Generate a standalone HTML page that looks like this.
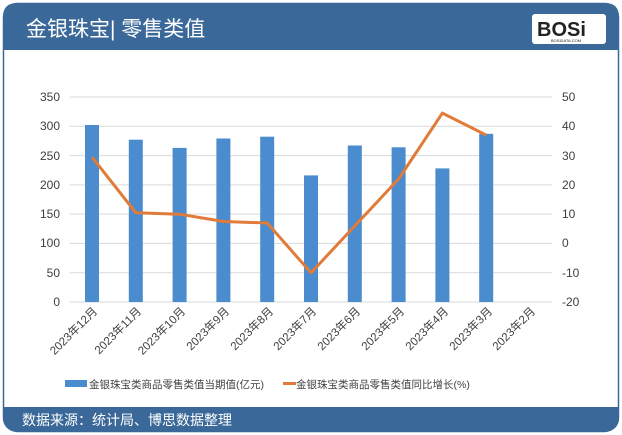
<!DOCTYPE html>
<html><head><meta charset="utf-8"><style>
body{margin:0;background:#fff;width:622px;height:435px;overflow:hidden}
svg{display:block;font-family:"Liberation Sans","Noto Sans CJK SC",sans-serif}
</style></head><body>
<svg width="622" height="435" viewBox="0 0 622 435">
<rect x="3.5" y="3.5" width="615" height="428" rx="14" fill="#fff" stroke="#3a6898" stroke-width="1.5"/>
<path d="M3 50 V17 Q3 3 17 3 H605 Q619 3 619 17 V50 Z" fill="#3a6898"/>
<text x="26" y="36" font-size="21" fill="#fff">金银珠宝| 零售类值</text>
<rect x="532" y="14" width="74" height="30" rx="3" fill="#fff"/>
<text x="537" y="36" font-size="20" font-weight="bold" fill="#222">BOSi</text>
<text x="551" y="42" font-size="4" fill="#222">BOSIDATA.COM</text>
<path d="M3 407 H619 V417 Q619 431 605 431 H17 Q3 431 3 417 Z" fill="#3a6898"/>
<text x="22" y="425" font-size="14" fill="#fff">数据来源：统计局、博思数据整理</text>
<g stroke="#d9d9d9" stroke-width="1">
<line x1="70" x2="552" y1="97" y2="97"/><line x1="70" x2="552" y1="126.3" y2="126.3"/>
<line x1="70" x2="552" y1="155.6" y2="155.6"/><line x1="70" x2="552" y1="184.9" y2="184.9"/>
<line x1="70" x2="552" y1="214.1" y2="214.1"/><line x1="70" x2="552" y1="243.4" y2="243.4"/>
<line x1="70" x2="552" y1="272.7" y2="272.7"/><line x1="70" x2="552" y1="302" y2="302"/>
</g>
<g font-size="12" fill="#404040" text-anchor="end">
<text x="60" y="101">350</text><text x="60" y="130">300</text><text x="60" y="160">250</text>
<text x="60" y="189">200</text><text x="60" y="218">150</text><text x="60" y="247">100</text>
<text x="60" y="277">50</text><text x="60" y="306">0</text>
</g>
<g font-size="12" fill="#404040">
<text x="562" y="101">50</text><text x="562" y="130">40</text><text x="562" y="160">30</text>
<text x="562" y="189">20</text><text x="562" y="218">10</text><text x="562" y="247">0</text>
<text x="562" y="277">-10</text><text x="562" y="306">-20</text>
</g>
<g fill="#4a8ccd">
<rect x="85" y="125" width="14" height="177"/><rect x="128.8" y="139.7" width="14" height="162.3"/>
<rect x="172.6" y="147.9" width="14" height="154.1"/><rect x="216.4" y="138.5" width="14" height="163.5"/>
<rect x="260.2" y="136.7" width="14" height="165.3"/><rect x="304" y="175.4" width="14" height="126.6"/>
<rect x="347.8" y="145.5" width="14" height="156.5"/><rect x="391.6" y="147.3" width="14" height="154.7"/>
<rect x="435.4" y="168.4" width="14" height="133.6"/><rect x="479.2" y="133.8" width="14" height="168.2"/>
</g>
<polyline fill="none" stroke="#e07b39" stroke-width="3" stroke-linejoin="round" points="92,157.1 135.8,212.7 179.6,214.2 223.4,221.5 267.2,223 311,272.8 354.8,225.9 398.6,179 442.4,113.1 486.2,135.1"/>
<g font-size="11.5" fill="#404040" text-anchor="end">
<text transform="translate(98,312) rotate(-45)">2023年12月</text>
<text transform="translate(142,312) rotate(-45)">2023年11月</text>
<text transform="translate(186,312) rotate(-45)">2023年10月</text>
<text transform="translate(230,312) rotate(-45)">2023年9月</text>
<text transform="translate(274,312) rotate(-45)">2023年8月</text>
<text transform="translate(317,312) rotate(-45)">2023年7月</text>
<text transform="translate(361,312) rotate(-45)">2023年6月</text>
<text transform="translate(405,312) rotate(-45)">2023年5月</text>
<text transform="translate(449,312) rotate(-45)">2023年4月</text>
<text transform="translate(493,312) rotate(-45)">2023年3月</text>
<text transform="translate(536,312) rotate(-45)">2023年2月</text>
</g>
<rect x="65" y="380" width="22" height="7" fill="#4a8ccd"/>
<text x="89" y="388" font-size="10.5" fill="#404040">金银珠宝类商品零售类值当期值(亿元)</text>
<line x1="283" x2="296" y1="383.5" y2="383.5" stroke="#e07b39" stroke-width="3"/>
<text x="296" y="388" font-size="10.5" fill="#404040">金银珠宝类商品零售类值同比增长(%)</text>
</svg>
</body></html>
